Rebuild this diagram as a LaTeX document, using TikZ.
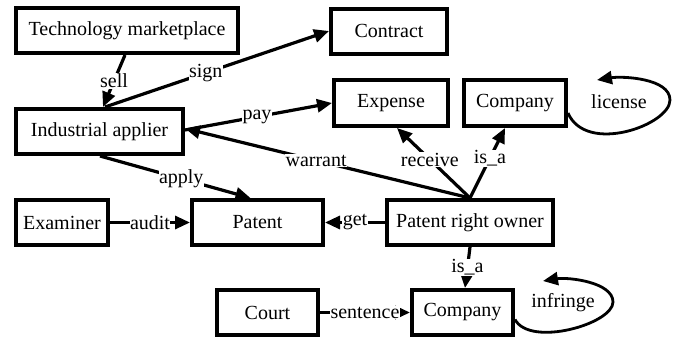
\documentclass[tikz,border=0pt]{standalone}
\usepackage{fontspec}
\setmainfont{Liberation Serif}
\usetikzlibrary{arrows.meta}
\begin{document}
\begin{tikzpicture}[x=1pt,y=-1pt,
  ent/.style={draw, line width=4pt, inner sep=0pt, font=\fontsize{20}{24}\selectfont,
    minimum height=45pt},
  rel/.style={line width=3.2pt, -{Triangle[length=15pt,width=13pt]}},
  loopline/.style={line width=2.8pt, -{Triangle[length=15pt,width=13pt]}},
  lbl/.style={fill=white, inner sep=0.5pt, font=\fontsize{20}{24}\selectfont}]
\useasboundingbox (0,0) rectangle (677,340);

% entities
\node[ent, minimum width=222pt] (tm)  at (127,30.5)  {Technology marketplace};
\node[ent, minimum width=116pt] (ct)  at (389,31)    {Contract};
\node[ent, minimum width=167pt] (ia)  at (99.5,131.5){Industrial applier};
\node[ent, minimum width=114pt, minimum height=46pt] (ex)  at (391,103) {Expense};
\node[ent, minimum width=102pt, minimum height=46pt] (co1) at (515,103) {Company};
\node[ent, minimum width=92pt]  (em)  at (62,222.5)  {Examiner};
\node[ent, minimum width=131pt] (pt)  at (257.5,222.5) {Patent};
\node[ent, minimum width=166pt] (pro) at (470,222.5) {Patent right owner};
\node[ent, minimum width=101pt] (cr)  at (267.5,312.5) {Court};
\node[ent, minimum width=101pt] (co2) at (462.5,312.5) {Company};

% free ends of the self loops
\coordinate (licEnd) at (597,80);
\coordinate (infEnd) at (543,281);

% relations
\draw[rel] ([xshift=-2pt]tm.south) -- node[lbl]{sell} ([xshift=3.5pt]ia.north);
\draw[rel] ([xshift=5.5pt]ia.north) -- node[lbl, pos=0.45]{sign} (ct.west);
\draw[rel] ([yshift=1.5pt]ia.east) -- node[lbl, pos=0.49]{pay} (ex.west);
\draw[rel] (pro.north) -- node[lbl, pos=0.54]{warrant} ([yshift=3pt]ia.east);
\draw[rel] (pro.north) -- node[lbl, pos=0.55]{receive} ([xshift=6pt]ex.south);
\draw[rel] (pro.north) -- node[lbl, pos=0.57]{is\_a} ([xshift=-10pt]co1.south);
\draw[rel] ([xshift=0.5pt]ia.south) -- node[lbl, pos=0.54]{apply} ([xshift=-7pt]pt.north);
\draw[rel] (em.east) -- node[lbl]{audit} (pt.west);
\draw[rel] (pro.west) -- node[lbl]{get} (pt.east);
\draw[rel] (pro.south) -- node[lbl]{is\_a} ([xshift=2.5pt]co2.north);
\draw[rel] (cr.east) -- node[lbl]{sentence} (co2.west);

% self loops
\draw[loopline] ([yshift=-10pt]co1.east) .. controls +(18,42) and +(0,25) .. (670,100)
  .. controls +(0,-22) and +(25,-4) .. (licEnd);
\node[lbl, fill=none] at (619,102) {license};
\draw[loopline] ([yshift=-7pt]co2.east) .. controls +(15,28) and +(0,22) .. (613,302)
  .. controls +(0,-20) and +(25,-4) .. (infEnd);
\node[lbl, fill=none] at (563,303) {infringe};
\end{tikzpicture}
\end{document}
